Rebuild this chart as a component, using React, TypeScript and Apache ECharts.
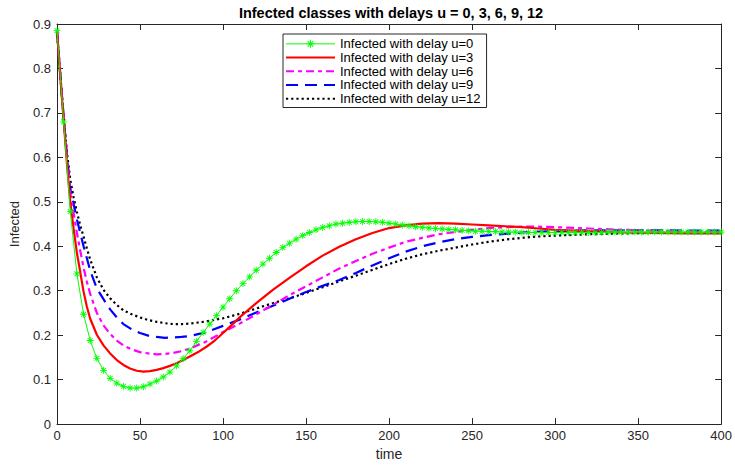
import React, { useEffect, useRef } from "react";
import * as echarts from "echarts";

const TITLE = "Infected classes with delays u = 0, 3, 6, 9, 12";
const X_NAME = "time";
const Y_NAME = "Infected";
const SERIES_NAMES = [
  "Infected with delay u=0",
  "Infected with delay u=3",
  "Infected with delay u=6",
  "Infected with delay u=9",
  "Infected with delay u=12",
];

// u = 0 : sampled every 4 time units (each sample carries a marker)
const timeU0 = [
  0, 4, 8, 12, 16, 20, 24, 28, 32, 36, 40, 44, 48, 52, 56, 60, 64, 68, 72, 76,
  80, 84, 88, 92, 96, 100, 104, 108, 112, 116, 120, 124, 128, 132, 136, 140,
  144, 148, 152, 156, 160, 164, 168, 172, 176, 180, 184, 188, 192, 196, 200,
  204, 208, 212, 216, 220, 224, 228, 232, 236, 240, 244, 248, 252, 256, 260,
  264, 268, 272, 276, 280, 284, 288, 292, 296, 300, 304, 308, 312, 316, 320,
  324, 328, 332, 336, 340, 344, 348, 352, 356, 360, 364, 368, 372, 376, 380,
  384, 388, 392, 396, 400,
];
const infectedU0 = [
  0.885, 0.68, 0.478, 0.338, 0.247, 0.188, 0.148, 0.121, 0.103, 0.092, 0.085,
  0.081, 0.081, 0.084, 0.09, 0.097, 0.106, 0.117, 0.131, 0.147, 0.165, 0.186,
  0.206, 0.225, 0.244, 0.263, 0.282, 0.3, 0.316, 0.331, 0.346, 0.36, 0.373,
  0.386, 0.397, 0.407, 0.416, 0.424, 0.431, 0.437, 0.442, 0.446, 0.45, 0.452,
  0.454, 0.455, 0.456, 0.456, 0.455, 0.454, 0.452, 0.45, 0.448, 0.446, 0.444,
  0.443, 0.441, 0.44, 0.439, 0.438, 0.437, 0.436, 0.435, 0.434, 0.434, 0.433,
  0.433, 0.432, 0.432, 0.432, 0.431, 0.431, 0.431, 0.431, 0.431, 0.431, 0.431,
  0.431, 0.431, 0.431, 0.431, 0.431, 0.431, 0.432, 0.432, 0.432, 0.432, 0.432,
  0.432, 0.432, 0.432, 0.432, 0.432, 0.432, 0.432, 0.432, 0.432, 0.432, 0.432,
  0.432, 0.432,
];

// u = 3
const timeU3 = [
  0, 2, 4, 6, 8, 10, 12, 14, 16, 18, 20, 24, 28, 32, 36, 40, 44, 48, 52, 56,
  60, 64, 68, 72, 76, 80, 85, 90, 95, 100, 105, 110, 120, 130, 140, 150, 160,
  170, 180, 190, 200, 210, 220, 230, 240, 250, 260, 270, 280, 290, 300, 320,
  340, 360, 380, 400,
];
const infectedU3 = [
  0.885, 0.78, 0.685, 0.585, 0.5, 0.44, 0.385, 0.342, 0.298, 0.264, 0.237,
  0.201, 0.177, 0.159, 0.144, 0.133, 0.125, 0.12, 0.118, 0.119, 0.122, 0.126,
  0.131, 0.137, 0.144, 0.152, 0.162, 0.174, 0.188, 0.205, 0.222, 0.24, 0.272,
  0.302, 0.329, 0.355, 0.379, 0.399, 0.416, 0.43, 0.441, 0.447, 0.451, 0.452,
  0.451, 0.449, 0.447, 0.445, 0.443, 0.44, 0.437, 0.434, 0.431, 0.43, 0.429,
  0.429,
];

// u = 6
const timeU6 = [
  0, 2, 4, 6, 8, 10, 12, 14, 16, 18, 20, 24, 28, 32, 36, 40, 45, 50, 55, 60,
  65, 70, 75, 80, 90, 100, 110, 120, 130, 140, 150, 160, 170, 180, 190, 200,
  210, 220, 230, 240, 250, 260, 270, 280, 290, 300, 320, 340, 360, 380, 400,
];
const infectedU6 = [
  0.885, 0.785, 0.69, 0.6, 0.52, 0.475, 0.43, 0.39, 0.352, 0.32, 0.293, 0.25,
  0.222, 0.203, 0.188, 0.177, 0.168, 0.162, 0.159, 0.157, 0.158, 0.16, 0.164,
  0.17, 0.186, 0.207, 0.226, 0.247, 0.268, 0.29, 0.31, 0.33, 0.35, 0.367,
  0.383, 0.397, 0.41, 0.419, 0.427, 0.432, 0.437, 0.441, 0.443, 0.444, 0.444,
  0.443, 0.44, 0.437, 0.435, 0.434, 0.433,
];

// u = 9
const timeU9 = [
  0, 2, 4, 6, 8, 10, 12, 14, 16, 18, 20, 24, 28, 32, 36, 40, 45, 50, 55, 60,
  65, 70, 75, 80, 90, 100, 110, 120, 130, 140, 150, 160, 170, 180, 190, 200,
  210, 220, 230, 240, 250, 260, 270, 280, 290, 300, 320, 340, 360, 380, 400,
];
const infectedU9 = [
  0.885, 0.785, 0.69, 0.605, 0.53, 0.495, 0.46, 0.43, 0.4, 0.373, 0.345, 0.305,
  0.281, 0.258, 0.24, 0.225, 0.213, 0.205, 0.199, 0.196, 0.194, 0.195, 0.196,
  0.198, 0.207, 0.221, 0.235, 0.251, 0.266, 0.282, 0.297, 0.311, 0.324, 0.34,
  0.357, 0.373, 0.388, 0.4, 0.409, 0.416, 0.421, 0.425, 0.428, 0.431, 0.433,
  0.434, 0.436, 0.436, 0.436, 0.435, 0.435,
];

// u = 12
const timeU12 = [
  0, 2, 4, 6, 8, 10, 12, 14, 16, 18, 20, 24, 28, 32, 36, 40, 45, 50, 55, 60,
  65, 70, 75, 80, 90, 100, 110, 120, 130, 140, 150, 160, 170, 180, 190, 200,
  210, 220, 230, 240, 250, 260, 270, 280, 290, 300, 320, 340, 360, 380, 400,
];
const infectedU12 = [
  0.885, 0.785, 0.69, 0.61, 0.55, 0.51, 0.477, 0.447, 0.422, 0.395, 0.37, 0.33,
  0.302, 0.283, 0.268, 0.256, 0.247, 0.24, 0.234, 0.23, 0.227, 0.225, 0.225,
  0.226, 0.231, 0.238, 0.248, 0.26, 0.272, 0.283, 0.295, 0.308, 0.321, 0.334,
  0.347, 0.36, 0.372, 0.382, 0.39, 0.397, 0.404, 0.41, 0.415, 0.419, 0.422,
  0.424, 0.427, 0.429, 0.43, 0.43, 0.431,
];

const X_TICKS = [0, 50, 100, 150, 200, 250, 300, 350, 400];
const Y_TICKS = [0, 0.1, 0.2, 0.3, 0.4, 0.5, 0.6, 0.7, 0.8, 0.9];

const pair = (xs: number[], ys: number[]) => xs.map((x, i) => [x, ys[i]]);

const STAR =
  "path://M-5,-0.6L5,-0.6L5,0.6L-5,0.6Z" +
  "M-0.6,-5L0.6,-5L0.6,5L-0.6,5Z" +
  "M-3.92,-3.08L-3.08,-3.92L3.92,3.08L3.08,3.92Z" +
  "M-3.92,3.08L3.08,-3.92L3.92,-3.08L-3.08,3.92Z";

const AXIS_COLOR = "#262626";
const FONT = "Liberation Sans, Arial, Helvetica, sans-serif";

export default function App() {
  const ref = useRef<HTMLDivElement>(null);

  useEffect(() => {
    if (!ref.current) return;
    const chart = echarts.init(ref.current, undefined, { renderer: "svg" });

    const xMin = X_TICKS[0];
    const xMax = X_TICKS[X_TICKS.length - 1];
    const xInt = X_TICKS[1] - X_TICKS[0];
    const yMin = Y_TICKS[0];
    const yMax = Y_TICKS[Y_TICKS.length - 1];

    const baseAxis = {
      axisLine: { show: true, onZero: false, lineStyle: { color: AXIS_COLOR, width: 1 } },
      axisTick: { show: true, inside: true, length: 6, lineStyle: { color: AXIS_COLOR } },
      splitLine: { show: false },
    };

    const option: any = {
      animation: false,
      backgroundColor: "#ffffff",
      textStyle: { fontFamily: FONT },
      title: {
        text: TITLE,
        left: 391,
        top: 5,
        textAlign: "center",
        padding: 0,
        textStyle: { fontFamily: FONT, fontSize: 14.5, fontWeight: "bold", color: "#000" },
      },
      legend: {
        orient: "vertical",
        left: 283,
        top: 34,
        padding: [3, 6, 2, 2],
        itemGap: 0,
        itemWidth: 49,
        itemHeight: 10,
        backgroundColor: "#ffffff",
        borderColor: AXIS_COLOR,
        borderWidth: 1,
        borderRadius: 0,
        textStyle: { fontFamily: FONT, fontSize: 13, color: "#000", lineHeight: 13.7 },
        data: SERIES_NAMES.map((n, i) =>
          i === 0
            ? { name: n, lineStyle: { width: 1 } }
            : { name: n, itemStyle: { opacity: 0 } }
        ),
      },
      grid: { left: 57, right: 12, top: 24, bottom: 37, containLabel: false },
      xAxis: [
        {
          ...baseAxis,
          type: "value",
          min: xMin,
          max: xMax,
          interval: xInt,
          name: X_NAME,
          nameLocation: "middle",
          nameGap: 21,
          nameTextStyle: { fontFamily: FONT, fontSize: 14, color: AXIS_COLOR },
          axisLabel: { margin: 5, fontSize: 13, color: AXIS_COLOR, fontFamily: FONT },
        },
        {
          ...baseAxis,
          type: "value",
          position: "top",
          min: xMin,
          max: xMax,
          interval: xInt,
          axisLabel: { show: false },
        },
      ],
      yAxis: [
        {
          ...baseAxis,
          type: "value",
          min: yMin,
          max: yMax,
          interval: 0.1,
          name: Y_NAME,
          nameLocation: "middle",
          nameGap: 36,
          nameTextStyle: { fontFamily: FONT, fontSize: 13, color: AXIS_COLOR },
          axisLabel: {
            margin: 6,
            fontSize: 13,
            color: AXIS_COLOR,
            fontFamily: FONT,
            formatter: (v: number) => String(+v.toFixed(1)),
          },
        },
        {
          ...baseAxis,
          type: "value",
          position: "right",
          min: yMin,
          max: yMax,
          interval: 0.1,
          axisLabel: { show: false },
        },
      ],
      series: [
        {
          name: SERIES_NAMES[0],
          type: "line",
          data: pair(timeU0, infectedU0),
          symbol: STAR,
          symbolSize: 7,
          showSymbol: true,
          showAllSymbol: true,
          itemStyle: { color: "#00ff00" },
          lineStyle: { color: "#00ff00", width: 1 },
          z: 5,
        },
        {
          name: SERIES_NAMES[1],
          type: "line",
          data: pair(timeU3, infectedU3),
          symbol: "none",
          itemStyle: { color: "#ff0000" },
          lineStyle: { color: "#ff0000", width: 2.2 },
          z: 4,
        },
        {
          name: SERIES_NAMES[2],
          type: "line",
          data: pair(timeU6, infectedU6),
          symbol: "none",
          itemStyle: { color: "#ff00ff" },
          lineStyle: { color: "#ff00ff", width: 2.2, type: [8, 4, 4, 4] },
          z: 3,
        },
        {
          name: SERIES_NAMES[3],
          type: "line",
          data: pair(timeU9, infectedU9),
          symbol: "none",
          itemStyle: { color: "#0000ff" },
          lineStyle: { color: "#0000ff", width: 2.2, type: [12, 7] },
          z: 2,
        },
        {
          name: SERIES_NAMES[4],
          type: "line",
          data: pair(timeU12, infectedU12),
          symbol: "none",
          itemStyle: { color: "#000000" },
          lineStyle: { color: "#000000", width: 2.2, type: [2.2, 3] },
          z: 1,
        },
      ],
    };

    chart.setOption(option);
    return () => chart.dispose();
  }, []);

  return (
    <div
      ref={ref}
      style={{ position: "absolute", left: 0, top: 0, width: 735, height: 466, background: "#fff" }}
    />
  );
}
